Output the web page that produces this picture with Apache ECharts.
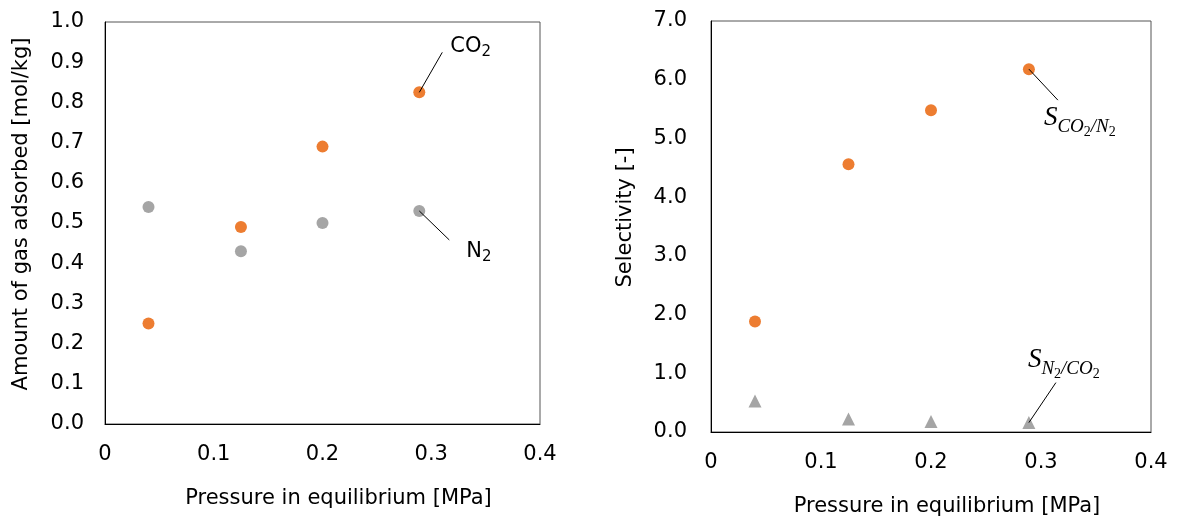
<!DOCTYPE html>
<html>
<head>
<meta charset="utf-8">
<script src="https://cdn.jsdelivr.net/npm/echarts@6/dist/echarts.min.js"></script>
<style>
  html, body { margin: 0; padding: 0; background: #fff; }
  #chart { width: 1179px; height: 526px; }
</style>
</head>
<body>
<div id="chart"></div>
<script>
// Equilibrium pressures [MPa]
const pressure = [0.04, 0.125, 0.2, 0.289];
// Amount adsorbed [mol/kg]
const co2Adsorbed = [0.25, 0.49, 0.69, 0.825];
const n2Adsorbed = [0.54, 0.43, 0.50, 0.53];
// Selectivities [-]
const selCO2overN2 = [1.88, 4.56, 5.48, 6.18];
const selN2overCO2 = [0.53, 0.22, 0.18, 0.16];

// Axis tick settings
const pressureTicks = { min: 0, max: 0.4, interval: 0.1 };
const adsorbedTicks = { min: 0, max: 1.0, interval: 0.1 };
const selectivityTicks = { min: 0, max: 7, interval: 1 };

const ORANGE = '#ED7D31';
const GRAY = '#A5A5A5';
const SANS = "'DejaVu Sans', Verdana, sans-serif";
const MATH = "'Liberation Serif', 'DejaVu Serif', serif";

const pairs = (xs, ys) => xs.map((x, i) => [x, ys[i]]);

function xAxisFor(gridIndex) {
  return {
    gridIndex, type: 'value', ...pressureTicks,
    splitLine: { show: false },
    axisTick: { show: false },
    axisLine: { lineStyle: { color: '#000', width: 1 } },
    axisLabel: {
      margin: 20, color: '#000', fontFamily: SANS, fontSize: 21,
      formatter: v => (v === 0 ? '0' : v.toFixed(1))
    },
    name: 'Pressure in equilibrium [MPa]',
    nameLocation: 'middle', nameGap: 64,
    nameTextStyle: { color: '#000', fontFamily: SANS, fontSize: 21, padding: [0, 0, 0, 32] }
  };
}

function yAxisFor(gridIndex, ticks, name, margin, gap) {
  return {
    gridIndex, type: 'value', ...ticks,
    splitLine: { show: false },
    axisTick: { show: false },
    axisLine: { lineStyle: { color: '#000', width: 1 } },
    axisLabel: {
      margin, color: '#000', fontFamily: SANS, fontSize: 21,
      formatter: v => v.toFixed(1)
    },
    name, nameLocation: 'middle', nameGap: gap,
    nameTextStyle: { color: '#000', fontFamily: SANS, fontSize: 21, padding: [0, 0, 0, 18] }
  };
}

const chart = echarts.init(document.getElementById('chart'), null, { renderer: 'canvas' });

const dot = (name, x, y, data, color, symbol, size) => ({
  name, type: 'scatter', xAxisIndex: x, yAxisIndex: y,
  symbol, symbolSize: size,
  itemStyle: { color, opacity: 1 },
  emphasis: { disabled: true },
  data
});

chart.setOption({
  animation: false,
  backgroundColor: '#fff',
  grid: [
    { left: 105, top: 22, width: 435, height: 402, show: true, borderColor: '#555', borderWidth: 1 },
    { left: 711, top: 21, width: 440, height: 411, show: true, borderColor: '#555', borderWidth: 1 }
  ],
  xAxis: [xAxisFor(0), xAxisFor(1)],
  yAxis: [
    yAxisFor(0, adsorbedTicks, 'Amount of gas adsorbed [mol/kg]', 21, 73),
    yAxisFor(1, selectivityTicks, 'Selectivity [-]', 24, 75)
  ],
  series: [
    dot('CO2', 0, 0, pairs(pressure, co2Adsorbed), ORANGE, 'circle', 12),
    dot('N2', 0, 0, pairs(pressure, n2Adsorbed), GRAY, 'circle', 12),
    dot('S CO2/N2', 1, 1, pairs(pressure, selCO2overN2), ORANGE, 'circle', 12),
    dot('S N2/CO2', 1, 1, pairs(pressure, selN2overCO2), GRAY, 'triangle', [13, 13])
  ]
});

// Rich-text styles for the callout labels; every token is bottom-aligned in a
// box of its own height, so smaller boxes put the subscripts lower.
const sansRich = {
  b: { fontFamily: SANS, fontSize: 21, height: 26, lineHeight: 26, verticalAlign: 'bottom', fill: '#000' },
  s: { fontFamily: SANS, fontSize: 15, height: 15, verticalAlign: 'bottom', fill: '#000' }
};
const mathRich = {
  b: { fontFamily: MATH, fontStyle: 'italic', fontSize: 27, height: 32, lineHeight: 32, verticalAlign: 'bottom', fill: '#000' },
  s: { fontFamily: MATH, fontStyle: 'italic', fontSize: 19, height: 13.5, verticalAlign: 'bottom', fill: '#000' },
  ss: { fontFamily: MATH, fontSize: 14, height: 3.5, verticalAlign: 'bottom', fill: '#000' }
};

// Callouts: leader line from a data point to its label
const callouts = [
  { seriesIndex: 0, dataIndex: 3, lineEnd: [23, -40], textAt: [31, -46],
    text: '{b|CO}{s|2}', rich: sansRich },
  { seriesIndex: 1, dataIndex: 3, lineEnd: [30, 29], textAt: [47, 41],
    text: '{b|N}{s|2}', rich: sansRich },
  { seriesIndex: 2, dataIndex: 3, lineEnd: [29, 31], textAt: [15, 49],
    text: '{b|S}{s|CO}{ss|2}{s|/N}{ss|2}', rich: mathRich },
  { seriesIndex: 3, dataIndex: 3, lineEnd: [27, -40], textAt: [-1, -63],
    text: '{b|S}{s|N}{ss|2}{s|/CO}{ss|2}', rich: mathRich }
];

const seriesData = [
  pairs(pressure, co2Adsorbed),
  pairs(pressure, n2Adsorbed),
  pairs(pressure, selCO2overN2),
  pairs(pressure, selN2overCO2)
];

const graphics = [];
callouts.forEach(c => {
  const p = chart.convertToPixel({ seriesIndex: c.seriesIndex }, seriesData[c.seriesIndex][c.dataIndex]);
  graphics.push({
    type: 'line', z: 10, silent: true,
    shape: { x1: p[0], y1: p[1], x2: p[0] + c.lineEnd[0], y2: p[1] + c.lineEnd[1] },
    style: { stroke: '#000', lineWidth: 1 }
  });
  graphics.push({
    type: 'text', z: 10, silent: true,
    x: p[0] + c.textAt[0], y: p[1] + c.textAt[1],
    style: { text: c.text, rich: c.rich, align: 'left', verticalAlign: 'middle', fill: '#000' }
  });
});
chart.setOption({ graphic: graphics });
</script>
</body>
</html>
